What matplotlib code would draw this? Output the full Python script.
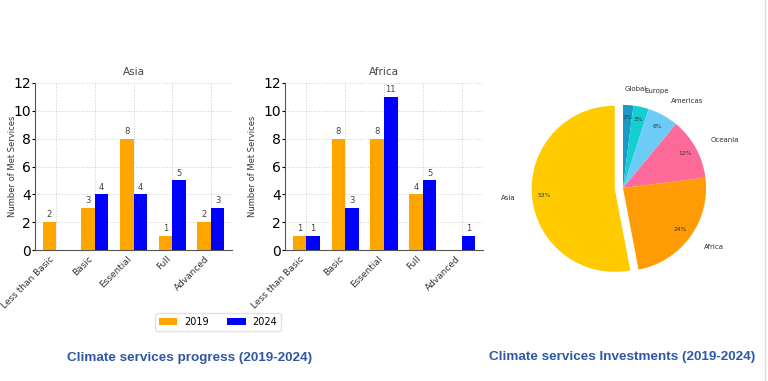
import matplotlib
matplotlib.use("Agg")
import matplotlib.pyplot as plt
import numpy as np

categories = ["Less than Basic", "Basic", "Essential", "Full", "Advanced"]
asia_2019 = [2, 3, 8, 1, 2]
asia_2024 = [0, 4, 4, 5, 3]
africa_2019 = [1, 8, 8, 4, 0]
africa_2024 = [1, 3, 11, 5, 1]
years = ["2019", "2024"]

pie_labels = ["Global", "Europe", "Americas", "Oceania", "Africa", "Asia"]
pie_values = [2, 3, 6, 12, 24, 53]
pie_colors = ["#1a9ac9", "#14cfcf", "#6cccf7", "#fd6a9a", "#ff9c05", "#ffcb00"]

W, H = 768, 381
fig = plt.figure(figsize=(W / 100, H / 100), dpi=100)

def px_axes(l, t, r, b):
    return fig.add_axes([l / W, 1 - b / H, (r - l) / W, (b - t) / H])

c19 = "#FFA500"
c24 = "#0000FF"

def bar_panel(ax, title, v19, v24, ylab_x):
    x = np.arange(len(categories))
    w = 0.35
    b1 = ax.bar(x - w / 2, v19, w, color=c19, label=years[0], zorder=3)
    b2 = ax.bar(x + w / 2, v24, w, color=c24, label=years[1], zorder=3)
    for bars, vals in ((b1, v19), (b2, v24)):
        for rect, v in zip(bars, vals):
            if v > 0:
                ax.text(rect.get_x() + rect.get_width() / 2, v + 0.2, str(v),
                        ha="center", va="bottom", fontsize=6, color="#444444")
    ax.set_ylim(0, 12)
    ax.set_xlim(-0.55, 4.55)
    ax.set_yticks(range(0, 13, 2))
    ax.set_xticks(x)
    ax.set_xticklabels(categories, rotation=45, ha="right", fontsize=6.5,
                       color="#333333")
    ax.tick_params(axis="y", labelsize=10, length=2, pad=1)
    ax.tick_params(axis="x", length=0, pad=3)
    ax.set_title(title, fontsize=7.5, color="#444444", pad=6)
    ax.set_ylabel("Number of Met Services", fontsize=6, color="#333333")
    ax.yaxis.set_label_coords(ylab_x, 0.5)
    ax.grid(True, linestyle=":", color="#cccccc", linewidth=0.7, zorder=0)
    for s in ("top", "right"):
        ax.spines[s].set_visible(False)
    for s in ("left", "bottom"):
        ax.spines[s].set_color("#555555")
    return b1, b2

ax1 = px_axes(35, 83, 232, 250)
h1, h2 = bar_panel(ax1, "Asia", asia_2019, asia_2024, -0.091)
ax2 = px_axes(285, 83, 483, 250)
bar_panel(ax2, "Africa", africa_2019, africa_2024, -0.141)

fig.legend([h1, h2], years, loc="center", bbox_to_anchor=(218 / W, 1 - 322 / H),
           ncol=2, fontsize=7, frameon=True, edgecolor="#dddddd",
           handlelength=1.9, columnspacing=1.9, borderpad=0.4, handletextpad=0.7)

axp = px_axes(623 - 108, 188 - 108, 623 + 108, 188 + 108)
explode = [0, 0, 0, 0, 0, 0.1]
wedges, texts, autotexts = axp.pie(pie_values, labels=pie_labels, colors=pie_colors,
                                   explode=explode, startangle=90, counterclock=False,
                                   autopct="%1.0f%%", pctdistance=0.85,
                                   labeldistance=1.2,
                                   textprops=dict(fontsize=5, color="#333333"))
for t in autotexts:
    t.set_fontsize(4.3)
texts[0].set_x(texts[0].get_position()[0] - 0.05)
axp.set_xlim(-1.3, 1.3)
axp.set_ylim(-1.3, 1.3)
axp.set_aspect("equal")

title_kw = dict(fontsize=9.7, fontweight="bold", color="#2e58a6",
                family="Liberation Sans", ha="center", va="center")
fig.text(190 / W, 1 - 358 / H, "Climate services progress (2019-2024)", **title_kw)
fig.text(622 / W, 1 - 357 / H, "Climate services Investments (2019-2024)", **title_kw)

fig.add_artist(plt.Line2D([765 / W, 765 / W], [0, 1], color="#dddddd", linewidth=1))

fig.savefig("out.png", dpi=100)
